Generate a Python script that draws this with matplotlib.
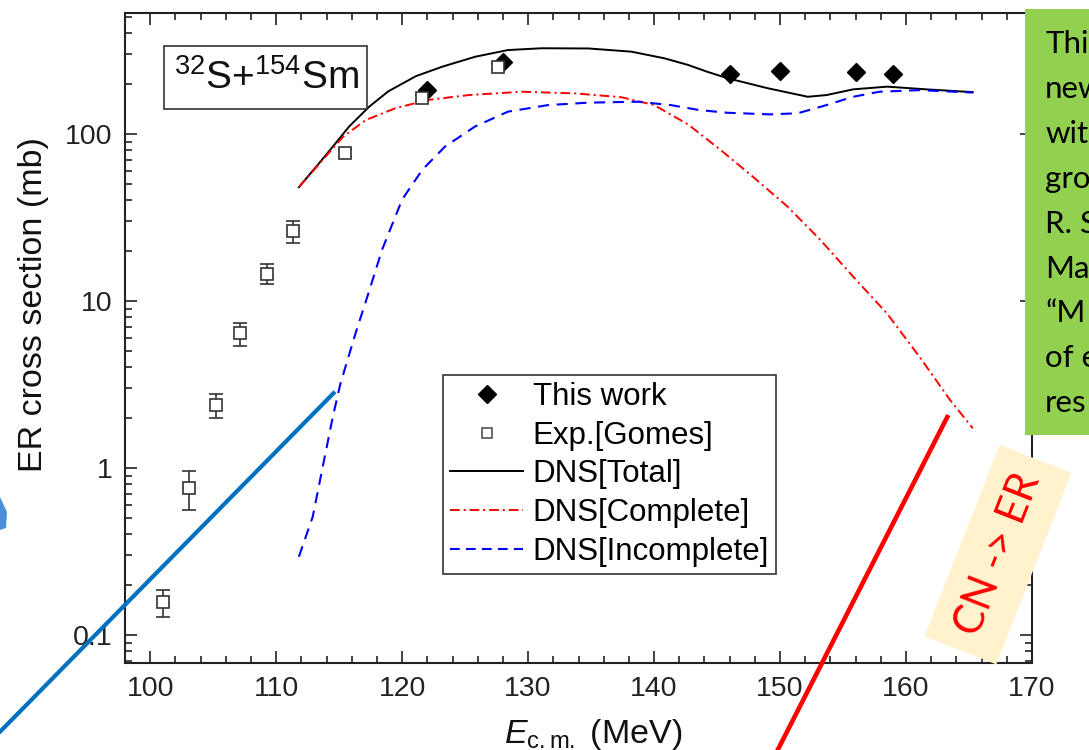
import numpy as np
import matplotlib
matplotlib.use("Agg")
import matplotlib.pyplot as plt
import matplotlib.transforms as mtransforms
from matplotlib.lines import Line2D
from matplotlib.patches import Rectangle, Polygon
from matplotlib.ticker import LogLocator, MultipleLocator, NullFormatter

plt.rcParams["font.family"] = ["Liberation Sans", "DejaVu Sans"]
plt.rcParams["mathtext.fontset"] = "custom"
plt.rcParams["mathtext.rm"] = "Liberation Sans"
plt.rcParams["mathtext.it"] = "Liberation Sans:italic"
plt.rcParams["lines.scale_dashes"] = False

# measured ER cross sections (mb)
this_work_e = [122.0, 128.0, 146.0, 150.0, 156.0, 159.0]
this_work_sigma = [183, 268, 229, 239, 235, 229]

gomes_e = [101.0, 103.1, 105.2, 107.15, 109.25, 111.3, 115.5, 121.6, 127.6]
gomes_sigma = [0.158, 0.755, 2.38, 6.4, 14.6, 26.2, 77, 164, 253]
gomes_lo = [0.128, 0.56, 1.99, 5.4, 12.6, 22.3, 73, 157, 242]
gomes_hi = [0.186, 0.96, 2.77, 7.4, 16.6, 30.1, 81, 171, 264]

# DNS calculations
total_e = [111.8, 113.2, 114.5, 115.8, 117.4, 118.9, 121.1, 123.2, 125.8, 128.4,
           131.1, 134.8, 138.2, 140.8, 142.7, 144.2, 145.8, 149.0, 152.2, 153.7,
           155.8, 158.5, 161.6, 165.3]
total_sigma = [48, 64, 84, 111, 146, 180, 222, 253, 290, 318,
               326, 325, 311, 284, 259, 236, 216, 188, 167, 171,
               185, 192, 185, 178]

complete_e = [111.8, 113.7, 115.3, 117.1, 119.5, 122.1, 125.3, 129.5, 133.7, 137.4,
              140.0, 142.7, 145.3, 147.9, 150.6, 153.2, 155.8, 158.5, 161.1, 163.5,
              165.3]
complete_sigma = [48, 70, 96, 121, 143, 160, 171, 179, 175, 166,
                  149, 114, 80, 55, 36.7, 23.2, 14.0, 8.4, 4.6, 2.55,
                  1.73]

incomplete_e = [111.8, 112.9, 113.7, 114.5, 115.1, 116.3, 117.4, 118.4, 120.0, 121.6,
                123.4, 125.8, 128.4, 131.6, 134.8, 138.7, 141.3, 143.6, 145.8, 149.2,
                151.4, 153.7, 155.8, 157.9, 161.1, 165.3]
incomplete_sigma = [0.294, 0.51, 1.02, 2.03, 3.2, 6.4, 11.6, 20.2, 40.5, 61,
                    84, 111, 136, 149, 154, 156, 149, 139, 134, 131,
                    133, 149, 167, 179, 183, 177]

xtick_values = [100, 110, 120, 130, 140, 150, 160, 170]
ytick_values = [0.1, 1, 10, 100]
ytick_labels = ["0.1", "1", "10", "100"]

legend_labels = ["This work", "Exp.[Gomes]", "DNS[Total]", "DNS[Complete]", "DNS[Incomplete]"]

note_lines = ["This", "new", "with", "gro", "R. S", "Ma", "\u201cM", "of e", "res"]

W, H = 1089, 750
fig = plt.figure(figsize=(W / 100, H / 100), dpi=100)
ax = fig.add_axes([125 / W, 87 / H, 907 / W, 650 / H])

red_dash = (7, 2.8, 1.5, 2.8)
blue_dash = (8, 5.5)

ax.plot(total_e, total_sigma, color="black", lw=1.4, zorder=2)
ax.plot(complete_e, complete_sigma, color="#ff0000", lw=1.4, dashes=red_dash, zorder=2)
ax.plot(incomplete_e, incomplete_sigma, color="#0000ff", lw=1.5, dashes=blue_dash, zorder=2)

ax.plot(this_work_e, this_work_sigma, ls="none", marker="D", color="black", ms=9.5, zorder=3)

yerr = [np.array(gomes_sigma) - np.array(gomes_lo), np.array(gomes_hi) - np.array(gomes_sigma)]
ax.errorbar(gomes_e, gomes_sigma, yerr=yerr, fmt="s", mfc="white", mec="#333333",
            ms=9, mew=1.2, ecolor="#333333", elinewidth=1.2, capsize=5,
            capthick=1.2, zorder=4)

ax.set_yscale("log")
ax.set_xlim(98, 170)
ax.set_ylim(0.068, 530)

ax.set_xticks(xtick_values)
ax.set_xticklabels([str(v) for v in xtick_values])
ax.xaxis.set_minor_locator(MultipleLocator(2))
ax.set_yticks(ytick_values)
ax.set_yticklabels(ytick_labels)
ax.yaxis.set_minor_locator(LogLocator(base=10, subs=np.arange(2, 10)))
ax.yaxis.set_minor_formatter(NullFormatter())

ax.tick_params(which="both", direction="in", top=True, right=True, width=1.2,
               labelsize=20.5, colors="#222222")
ax.tick_params(which="major", length=8.5, pad=9)
ax.tick_params(which="minor", length=5)
for sp in ax.spines.values():
    sp.set_linewidth(1.5)
    sp.set_color("#222222")

fig.text(34 / W, 1 - 305 / H, "ER cross section (mb)", rotation=90,
         ha="center", va="center", fontsize=24.5, color="#111111")
fig.text(593 / W, 1 - 743 / H, r"$E_{\mathrm{c.m.}}$ (MeV)",
         ha="center", va="baseline", fontsize=24.5, color="#111111")

# reaction label box
px = mtransforms.Affine2D().scale(1 / W, 1 / H) + fig.transFigure
fig.patches.append(Rectangle((164, H - 109), 203, 63, transform=px, fill=False,
                             edgecolor="#333333", lw=1.2, zorder=3))
fig.text(266, H - 78, r"$^{32}$S+$^{154}$Sm", transform=px, ha="center",
         va="center", fontsize=28, color="#111111", zorder=4)

handles = [
    Line2D([], [], ls="none", marker="D", color="black", ms=9),
    Line2D([], [], ls="none", marker="s", mfc="white", mec="#444444", ms=6.5, mew=1.1),
    Line2D([], [], color="black", lw=1.4),
    Line2D([], [], color="#ff0000", lw=1.4, dashes=red_dash),
    Line2D([], [], color="#0000ff", lw=1.5, dashes=(7, 4.5)),
]
leg = ax.legend(handles, legend_labels, loc="upper left",
                bbox_to_anchor=(443 / W, 1 - 375 / H), bbox_transform=fig.transFigure,
                fontsize=22.5, frameon=True, fancybox=False, framealpha=1,
                edgecolor="#333333", borderpad=0.22, borderaxespad=0,
                handlelength=2.35, handletextpad=0.3, labelspacing=0.28)
leg.get_frame().set_linewidth(1.2)
leg.set_zorder(5)

# slide overlays: note box, arrows and the CN -> ER tag
fig.patches.append(Rectangle((1025, H - 435), 80, 426, transform=px,
                             facecolor="#92d050", edgecolor="none", zorder=10))
for i, s in enumerate(note_lines):
    fig.text(1045, H - (53 + 44.9 * i), s, transform=px, ha="left", va="baseline",
             fontsize=22.5, family=["Lato", "DejaVu Sans"], color="black", zorder=11)

fig.lines.append(Line2D([-5, 335], [H - 736.8, H - 391.7], transform=px,
                        color="#0070c0", lw=3, solid_capstyle="butt", zorder=10))
fig.lines.append(Line2D([948.3, 772.6], [H - 415, H - 760], transform=px,
                        color="#ff0000", lw=3.3, solid_capstyle="butt", zorder=10))

cx, cy, bw, bh = 998, H - 554.6, 205.8, 77
fig.patches.append(Rectangle((cx - bw / 2, cy - bh / 2), bw, bh, angle=68.6,
                             rotation_point="center", transform=px,
                             facecolor="#fff2cc", edgecolor="none", zorder=10))
fig.text(cx, cy, "CN -> ER", transform=px, rotation=68.6, rotation_mode="anchor",
         ha="center", va="center", fontsize=30, family=["Lato", "DejaVu Sans"],
         color="#ff0000", zorder=11)

fig.patches.append(Polygon([(0, H - 497), (7, H - 512), (6, H - 528), (0, H - 530)],
                           closed=True, transform=px, facecolor="#4a8fd8",
                           edgecolor="none", zorder=10))

fig.savefig("out.png", dpi=100)
